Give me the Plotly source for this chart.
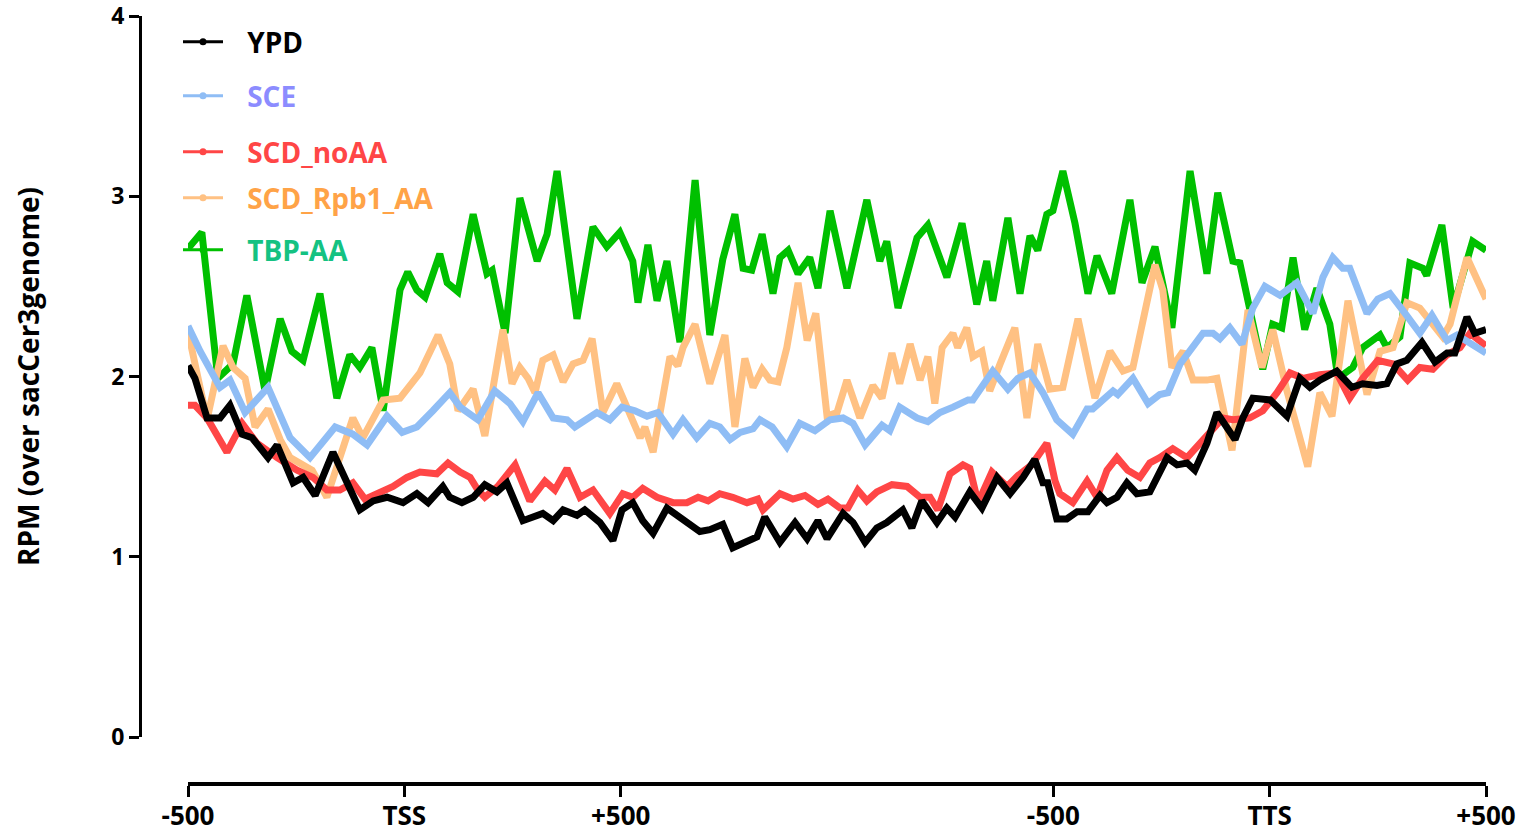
import plotly.graph_objects as go

# Metagene position: 0=-500, 500=TSS, 1000=+500, 2000=-500 (before TTS), 2500=TTS, 3000=+500
tick_positions = [0, 500, 1000, 2000, 2500, 3000]
tick_labels = ["-500", "TSS", "+500", "-500", "TTS", "+500"]

series_names = ["YPD", "SCE", "SCD_noAA", "SCD_Rpb1_AA", "TBP-AA"]

tbp_x = [0, 32, 69, 104, 136, 178, 213, 240, 266, 305, 344, 374, 397, 425, 451, 490, 508, 529, 548, 582,
         599, 624, 659, 691, 703, 733, 767, 807, 830, 853, 899, 936, 968, 998, 1028, 1040, 1063, 1084, 1107, 1137,
         1172, 1206, 1236, 1264, 1283, 1303, 1327, 1352, 1368, 1387, 1410, 1437, 1456, 1484, 1523, 1569, 1599, 1615, 1641, 1685,
         1710, 1754, 1789, 1823, 1846, 1860, 1895, 1923, 1946, 1964, 1985, 1999, 2022, 2050, 2080, 2101, 2135, 2177, 2205, 2235,
         2274, 2316, 2355, 2380, 2415, 2431, 2484, 2507, 2528, 2554, 2581, 2609, 2639, 2658, 2692, 2715, 2755, 2771, 2801, 2824,
         2854, 2863, 2898, 2924, 2969, 3000]
tbp_y = [2.71, 2.80, 1.99, 2.07, 2.45, 1.92, 2.32, 2.14, 2.09, 2.46, 1.88, 2.12, 2.05, 2.16, 1.81, 2.48, 2.58, 2.48, 2.44, 2.68,
         2.52, 2.47, 2.90, 2.57, 2.59, 2.24, 2.99, 2.64, 2.79, 3.14, 2.32, 2.83, 2.72, 2.80, 2.64, 2.41, 2.73, 2.42, 2.64, 2.19,
         3.09, 2.23, 2.65, 2.90, 2.60, 2.59, 2.79, 2.46, 2.66, 2.70, 2.57, 2.66, 2.49, 2.92, 2.49, 2.98, 2.64, 2.75, 2.38, 2.77,
         2.84, 2.55, 2.85, 2.40, 2.64, 2.42, 2.88, 2.46, 2.78, 2.70, 2.90, 2.92, 3.14, 2.85, 2.46, 2.67, 2.46, 2.98, 2.52, 2.72,
         2.27, 3.14, 2.57, 3.02, 2.64, 2.63, 2.04, 2.29, 2.27, 2.66, 2.26, 2.49, 2.29, 1.99, 2.05, 2.16, 2.23, 2.16, 2.22, 2.63,
         2.60, 2.56, 2.84, 2.38, 2.75, 2.70]

rpb1_x = [0, 44, 81, 104, 132, 155, 185, 213, 236, 287, 321, 381, 404, 451, 490, 536, 578, 605, 624, 659,
          686, 728, 749, 767, 786, 802, 820, 844, 867, 890, 913, 934, 959, 991, 1045, 1056, 1075, 1114, 1132, 1144,
          1172, 1206, 1241, 1264, 1287, 1306, 1327, 1345, 1364, 1384, 1410, 1431, 1451, 1477, 1500, 1523, 1553, 1583, 1604, 1627,
          1645, 1669, 1692, 1710, 1726, 1743, 1768, 1779, 1800, 1814, 1835, 1853, 1877, 1911, 1939, 1964, 1992, 2022, 2057, 2096,
          2131, 2161, 2184, 2212, 2235, 2253, 2274, 2300, 2323, 2355, 2378, 2413, 2450, 2482, 2507, 2540, 2588, 2616, 2644, 2681,
          2725, 2755, 2785, 2817, 2847, 2900, 2917, 2956, 3000]
rpb1_y = [2.25, 1.76, 2.17, 2.05, 1.99, 1.72, 1.82, 1.65, 1.55, 1.48, 1.33, 1.77, 1.66, 1.87, 1.88, 2.02, 2.23, 2.07, 1.81, 1.93,
          1.67, 2.26, 1.96, 2.05, 1.99, 1.91, 2.09, 2.12, 1.97, 2.07, 2.09, 2.21, 1.80, 1.96, 1.66, 1.72, 1.58, 2.11, 2.06, 2.16,
          2.29, 1.96, 2.23, 1.72, 2.10, 1.94, 2.04, 1.98, 1.97, 2.16, 2.52, 2.20, 2.35, 1.78, 1.80, 1.98, 1.77, 1.95, 1.88, 2.13,
          1.96, 2.18, 1.98, 2.11, 1.85, 2.16, 2.24, 2.16, 2.27, 2.11, 2.14, 1.92, 2.07, 2.27, 1.77, 2.18, 1.93, 1.94, 2.32, 1.88,
          2.14, 2.03, 2.05, 2.35, 2.62, 2.48, 2.05, 2.14, 1.98, 1.98, 1.99, 1.59, 2.37, 2.05, 2.26, 1.92, 1.50, 1.91, 1.78, 2.42,
          1.90, 2.14, 2.16, 2.41, 2.38, 2.22, 2.29, 2.66, 2.43]

noaa_x = [0, 16, 44, 90, 125, 159, 206, 252, 289, 321, 351, 381, 409, 444, 474, 506, 536, 575, 601, 629,
          652, 670, 686, 716, 756, 790, 825, 848, 876, 906, 936, 975, 1005, 1028, 1051, 1084, 1121, 1153, 1179, 1202,
          1229, 1259, 1292, 1317, 1329, 1368, 1398, 1426, 1456, 1479, 1507, 1525, 1548, 1569, 1592, 1627, 1662, 1692, 1715, 1733,
          1761, 1791, 1807, 1826, 1858, 1893, 1918, 1950, 1985, 2004, 2015, 2045, 2078, 2101, 2124, 2147, 2172, 2200, 2223, 2246,
          2276, 2309, 2339, 2362, 2392, 2415, 2454, 2484, 2517, 2547, 2577, 2616, 2655, 2685, 2715, 2750, 2785, 2819, 2847, 2877,
          2910, 2940, 2963, 3000]
noaa_y = [1.84, 1.84, 1.77, 1.58, 1.74, 1.63, 1.55, 1.48, 1.44, 1.37, 1.37, 1.41, 1.32, 1.36, 1.39, 1.44, 1.47, 1.46, 1.52, 1.47,
          1.44, 1.37, 1.33, 1.39, 1.51, 1.31, 1.42, 1.37, 1.49, 1.33, 1.37, 1.24, 1.35, 1.33, 1.38, 1.33, 1.30, 1.30, 1.33, 1.31,
          1.35, 1.33, 1.30, 1.32, 1.26, 1.35, 1.32, 1.34, 1.29, 1.32, 1.27, 1.27, 1.37, 1.31, 1.36, 1.40, 1.39, 1.33, 1.33, 1.26,
          1.46, 1.51, 1.49, 1.30, 1.47, 1.39, 1.45, 1.51, 1.63, 1.42, 1.35, 1.30, 1.42, 1.33, 1.48, 1.55, 1.48, 1.44, 1.52, 1.55,
          1.60, 1.55, 1.63, 1.70, 1.77, 1.76, 1.77, 1.81, 1.91, 2.02, 1.99, 2.01, 2.02, 1.88, 1.99, 2.09, 2.07, 1.98, 2.05, 2.04,
          2.12, 2.16, 2.24, 2.17]

sce_x = [0, 28, 74, 97, 132, 185, 236, 282, 340, 381, 414, 460, 495, 529, 566, 605, 629, 647, 670, 709,
         744, 774, 809, 844, 876, 894, 945, 975, 1003, 1033, 1061, 1086, 1121, 1144, 1176, 1206, 1229, 1253, 1276, 1306,
         1322, 1350, 1384, 1414, 1449, 1484, 1514, 1537, 1565, 1604, 1622, 1645, 1685, 1710, 1738, 1768, 1803, 1814, 1860, 1895,
         1918, 1946, 1976, 2008, 2045, 2078, 2091, 2138, 2149, 2184, 2219, 2246, 2265, 2293, 2323, 2346, 2369, 2385, 2408, 2436,
         2461, 2489, 2524, 2563, 2600, 2623, 2646, 2669, 2685, 2725, 2750, 2778, 2813, 2847, 2875, 2910, 2933, 3000]
sce_y = [2.28, 2.14, 1.94, 1.98, 1.80, 1.94, 1.66, 1.55, 1.72, 1.68, 1.62, 1.78, 1.69, 1.72, 1.81, 1.91, 1.83, 1.80, 1.76, 1.92,
         1.85, 1.75, 1.91, 1.77, 1.76, 1.72, 1.80, 1.76, 1.83, 1.81, 1.78, 1.80, 1.68, 1.76, 1.66, 1.74, 1.72, 1.65, 1.69, 1.71,
         1.76, 1.72, 1.61, 1.74, 1.70, 1.76, 1.77, 1.74, 1.62, 1.73, 1.70, 1.83, 1.77, 1.75, 1.80, 1.83, 1.87, 1.87, 2.03, 1.93,
         1.99, 2.02, 1.91, 1.76, 1.68, 1.82, 1.82, 1.92, 1.90, 1.99, 1.85, 1.90, 1.91, 2.07, 2.17, 2.24, 2.24, 2.21, 2.27, 2.18,
         2.38, 2.50, 2.45, 2.52, 2.35, 2.55, 2.66, 2.60, 2.60, 2.35, 2.43, 2.46, 2.35, 2.24, 2.34, 2.20, 2.23, 2.13]

ypd_x = [0, 16, 44, 74, 97, 125, 148, 166, 185, 206, 243, 266, 294, 335, 367, 397, 428, 460, 497, 529,
         555, 589, 605, 633, 659, 686, 714, 737, 774, 797, 820, 844, 867, 899, 917, 952, 982, 1003, 1028, 1051,
         1075, 1107, 1137, 1160, 1183, 1206, 1236, 1259, 1292, 1315, 1333, 1368, 1403, 1431, 1456, 1477, 1514, 1537, 1565, 1592,
         1615, 1638, 1652, 1673, 1696, 1731, 1754, 1773, 1807, 1835, 1870, 1900, 1930, 1957, 1976, 1987, 2008, 2031, 2055, 2080,
         2108, 2124, 2147, 2170, 2193, 2223, 2246, 2263, 2286, 2309, 2327, 2355, 2378, 2401, 2420, 2438, 2461, 2501, 2540, 2554,
         2570, 2593, 2616, 2655, 2690, 2715, 2748, 2771, 2794, 2817, 2852, 2882, 2910, 2928, 2956, 2974, 3000]
ypd_y = [2.06, 1.99, 1.77, 1.77, 1.84, 1.68, 1.66, 1.60, 1.55, 1.62, 1.41, 1.44, 1.34, 1.58, 1.41, 1.26, 1.31, 1.33, 1.30, 1.35,
         1.30, 1.39, 1.33, 1.30, 1.33, 1.40, 1.36, 1.41, 1.20, 1.22, 1.24, 1.20, 1.26, 1.23, 1.26, 1.19, 1.09, 1.26, 1.30, 1.20,
         1.13, 1.27, 1.22, 1.19, 1.14, 1.15, 1.18, 1.05, 1.09, 1.11, 1.22, 1.08, 1.19, 1.10, 1.20, 1.10, 1.24, 1.19, 1.08, 1.16,
         1.19, 1.24, 1.26, 1.16, 1.31, 1.19, 1.27, 1.22, 1.36, 1.27, 1.44, 1.35, 1.44, 1.54, 1.41, 1.41, 1.21, 1.21, 1.25, 1.25,
         1.34, 1.30, 1.33, 1.41, 1.35, 1.36, 1.46, 1.55, 1.51, 1.52, 1.48, 1.63, 1.80, 1.72, 1.65, 1.77, 1.88, 1.87, 1.78, 1.88,
         1.99, 1.94, 1.98, 2.03, 1.94, 1.96, 1.95, 1.96, 2.07, 2.09, 2.19, 2.08, 2.13, 2.13, 2.33, 2.24, 2.26]

line_colors = {"YPD": "#000000", "SCE": "#8fbdf5", "SCD_noAA": "#ff4646",
               "SCD_Rpb1_AA": "#ffc183", "TBP-AA": "#00c000"}
label_colors = {"YPD": "#000000", "SCE": "#8c8cff", "SCD_noAA": "#ff4646",
                "SCD_Rpb1_AA": "#ffa347", "TBP-AA": "#14c282"}
data = {"YPD": (ypd_x, ypd_y), "SCE": (sce_x, sce_y), "SCD_noAA": (noaa_x, noaa_y),
        "SCD_Rpb1_AA": (rpb1_x, rpb1_y), "TBP-AA": (tbp_x, tbp_y)}

W, H = 1526, 837
FONT = "Open Sans"

fig = go.Figure()
draw_order = ["TBP-AA", "SCD_Rpb1_AA", "SCD_noAA", "SCE", "YPD"]
for name in draw_order:
    xs, ys = data[name]
    fig.add_trace(go.Scatter(x=xs, y=ys, mode="lines", showlegend=False,
                             line=dict(color=line_colors[name], width=7, shape="linear"),
                             hoverinfo="skip"))

legend_y_px = {"YPD": 42, "SCE": 96, "SCD_noAA": 152, "SCD_Rpb1_AA": 198, "TBP-AA": 250}
legend_layout = {}
GAP = "\u00a0\u00a0\u2009"
for i, name in enumerate(series_names):
    key = "legend" if i == 0 else f"legend{i+1}"
    fig.add_trace(go.Scatter(x=[None], y=[None], mode="lines+markers", name=GAP + name,
                             legend=key, showlegend=True,
                             line=dict(color=line_colors[name], width=3),
                             marker=dict(color=line_colors[name], size=7)))
    legend_layout[key] = dict(
        x=178 / W, y=1 - legend_y_px[name] / H, xanchor="left", yanchor="middle",
        bgcolor="rgba(0,0,0,0)", borderwidth=0, itemwidth=40,
        font=dict(family=FONT, size=28, color=label_colors[name], weight="bold"),
    )

fig.update_layout(
    width=W, height=H,
    margin=dict(l=0, r=0, t=0, b=0, autoexpand=False),
    paper_bgcolor="white", plot_bgcolor="white",
    xaxis=dict(domain=[188 / W, 1486 / W], range=[0, 3000], anchor="free",
               position=1 - 784 / H, showgrid=False, zeroline=False,
               showline=True, linecolor="black", linewidth=4,
               ticks="outside", ticklen=11, tickwidth=3, tickcolor="black",
               tickvals=tick_positions, ticktext=tick_labels,
               ticklabeloverflow="allow", ticklabelstandoff=-3,
               tickfont=dict(family=FONT, size=26, color="black", weight="bold")),
    yaxis=dict(domain=[1 - 737 / H, 1 - 16 / H], range=[0, 4], anchor="free",
               position=140 / W, showgrid=False, zeroline=False,
               showline=True, linecolor="black", linewidth=3,
               ticks="outside", ticklen=10, tickwidth=3, tickcolor="black",
               tickvals=[0, 1, 2, 3, 4], ticktext=["0", "1", "2", "3", "4"],
               ticklabeloverflow="allow",
               tickfont=dict(family=FONT, size=23, color="black", weight="bold"),
               title=dict(text="RPM (over sacCer3genome)", standoff=62,
                          font=dict(family=FONT, size=28, color="black", weight="bold"))),
    **legend_layout,
)

fig.write_html("out.html", include_plotlyjs=True, config={"displayModeBar": False},
               post_script="document.body.style.margin='0';document.body.style.overflow='hidden';")
